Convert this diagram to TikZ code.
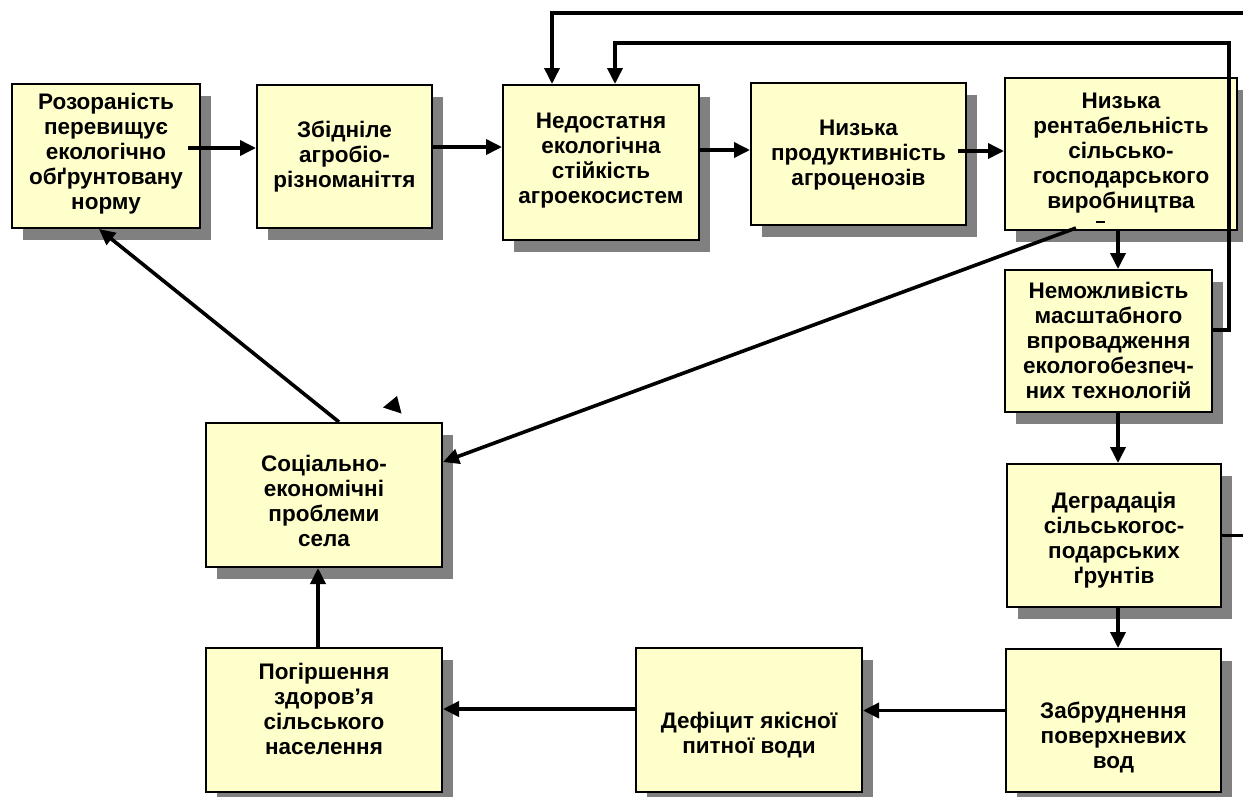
\documentclass[tikz,border=0pt]{standalone}
\usepackage{fontspec}
\setmainfont{Liberation Sans}
\usetikzlibrary{arrows.meta,shadows,calc}
\definecolor{boxfill}{HTML}{FFFFCC}
\definecolor{shadowgray}{HTML}{808080}
\newcommand\bxt[3]{\rule{0pt}{#1pt}#3\rule[-#2pt]{0pt}{#2pt}}
\begin{document}
\begin{tikzpicture}[x=1pt,y=-1pt,
  box/.style={draw=black, line width=2pt, fill=boxfill, align=center,
    font=\fontsize{22.5}{25}\selectfont\bfseries, inner sep=1pt,
    drop shadow={shadow xshift=11pt, shadow yshift=-12pt, fill=shadowgray, opacity=1}},
  arr/.style={line width=3.6pt, -{Triangle[length=16pt,width=15pt]}},
  ln/.style={line width=3.6pt}]
\useasboundingbox (0,0) rectangle (1243,796);
\clip (0,0) rectangle (1243,796);

% boxes
\node[box, minimum width=188pt, minimum height=144pt] (b1) at (106,156)
  {\bxt{15}{9}{Розораність\\перевищує\\екологічно\\обґрунтовану\\норму}};
\node[box, minimum width=175pt, minimum height=143pt] (b2) at (344.5,156.5)
  {\bxt{17}{4}{Збідніле\\агробіо-\\різноманіття}};
\node[box, minimum width=196pt, minimum height=155pt] (b3) at (601,162.5)
  {\bxt{15}{8}{Недостатня\\екологічна\\стійкість\\агроекосистем}};
\node[box, minimum width=215pt, minimum height=142pt] (b4) at (858.5,154)
  {\bxt{18}{4}{Низька\\продуктивність\\агроценозів}};
\node[box, minimum width=232pt, minimum height=152pt] (b5) at (1121,154)
  {\bxt{14}{6}{Низька\\рентабельність\\сільсько-\\господарського\\виробництва}};
\node[box, minimum width=207pt, minimum height=142pt] (b6) at (1108.5,341)
  {\bxt{18}{4}{Неможливість\\масштабного\\впровадження\\екологобезпеч-\\них технологій}};
\node[box, minimum width=214pt, minimum height=143pt] (b7) at (1114,535.5)
  {\bxt{25}{5}{Деградація\\сільськогос-\\подарських\\ґрунтів}};
\node[box, minimum width=215pt, minimum height=143pt] (b8) at (1113.5,720.5)
  {\bxt{50}{5}{Забруднення\\поверхневих\\вод}};
\node[box, minimum width=226pt, minimum height=144pt] (b9) at (749,720)
  {\bxt{47}{5}{Дефіцит якісної\\питної води}};
\node[box, minimum width=236pt, minimum height=144pt] (b10) at (324,720)
  {\bxt{15}{23}{Погіршення\\здоров’я\\сільського\\населення}};
\node[box, minimum width=236pt, minimum height=144pt] (b11) at (324,495)
  {\bxt{32}{5}{Соціально-\\економічні\\проблеми\\села}};

% stray mark under "виробництва"
\fill (1096,220.5) rectangle (1105,223);

% top row arrows
\draw[arr] ([xshift=-13pt,yshift=8pt]b1.east) coordinate (q1) -- (q1 -| b2.west);
\draw[arr] ([yshift=9.5pt]b2.east) coordinate (q2) -- (q2 -| b3.west);
\draw[arr] ([yshift=12.5pt]b3.east) coordinate (q3) -- (q3 -| b4.west);
\draw[arr] ([xshift=-9pt,yshift=3pt]b4.east) coordinate (q4) -- (q4 -| b5.west);

% right column
\coordinate (vx) at (1118,0);
\draw[arr] (b5.south -| vx) -- (b6.north -| vx);
\draw[arr] (b6.south -| vx) -- (b7.north -| vx);
\draw[arr] (b7.south -| vx) -- (b8.north -| vx);

% bottom row
\draw[arr] ([yshift=10pt]b8.west) coordinate (q5) -- (q5 -| b9.east);
\draw[arr] ([yshift=11pt]b9.west) coordinate (q6) -- (q6 -| b10.east);
\coordinate (vy) at (318,0);
\draw[arr] (b10.north -| vy) -- (b11.south -| vy);

% diagonals
\draw[arr] ($(b11.north west)+(134,0)$) -- ($(b1.south west)+(88,0)$);
\draw[arr] ($(b5.south west)+(72,-3)$) -- ([yshift=33pt]b11.east);

% feedback loops
\draw[arr] ([yshift=11pt]b6.east) -| (1229,43) -| ($(b3.north west)+(113,0)$);
\draw[arr] (b7.east) -| (1250,13) -| ($(b3.north west)+(50,0)$);

% stray arrowhead
\fill (383,407.5) -- (397,396) -- (401.5,413.5) -- cycle;
\end{tikzpicture}
\end{document}
